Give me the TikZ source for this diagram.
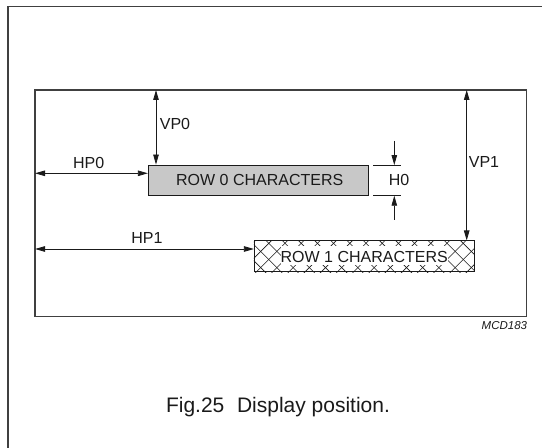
\documentclass[tikz,border=0pt]{standalone}
\usepackage{fontspec}
\setmainfont{Liberation Sans}
\usetikzlibrary{arrows.meta}
\definecolor{ink}{HTML}{1A1A1A}
\definecolor{framec}{HTML}{404040}
\definecolor{boxgray}{HTML}{C8C8C8}
\tikzset{
  dim/.style={draw=ink, line width=0.8bp, {Triangle[length=10bp,width=5.5bp]}-{Triangle[length=10bp,width=5.5bp]}},
  dimone/.style={draw=ink, line width=0.8bp, -{Triangle[length=10bp,width=5.5bp]}},
  ext/.style={draw=ink, line width=0.8bp},
  lbl/.style={font=\fontsize{16bp}{18bp}\selectfont, text=ink, inner sep=0pt},
  rowbox/.style={draw=ink, line width=0.9bp, rectangle, inner sep=0pt, minimum height=30.7bp},
  hatch/.style={draw=ink, line width=0.6bp}
}
\begin{document}
\begin{tikzpicture}[x=1bp,y=-1bp]
\useasboundingbox (0,0) rectangle (542,448);
% page border (cropped)
\draw[framec, line width=1.6bp] (8,448) -- (8,6.7) -- (542,6.7);
% display frame
\node[draw=framec, line width=1.3bp, rectangle, inner sep=0pt, minimum width=491.7bp, minimum height=226.3bp] (frame) at (280.85,203.15) {};
% row 0
\node[rowbox, fill=boxgray, minimum width=220bp] (r0) at (258.3,180.4) {};
\node[lbl] (r0t) at (259.7,180.4) {ROW 0 CHARACTERS};
% row 1
\node[rowbox, minimum width=219.7bp] (r1) at (364.2,256.3) {};
\begin{scope}
  \clip (r1.south west) rectangle (r1.north east);
  \foreach \k in {-4,...,12} {
    \pgfmathsetmacro{\c}{41.7+16.2*\k}
    \draw[hatch] (\c+235,235) -- (\c+280,280);
  }
  \foreach \m in {-3,...,14} {
    \pgfmathsetmacro{\d}{528.3+16.2*\m}
    \draw[hatch] (\d-235,235) -- (\d-280,280);
  }
\end{scope}
\fill[white] (280.5,246.2) rectangle (448,265.2);
\node[rowbox, minimum width=219.7bp] (r1b) at (364.2,256.3) {};
\node[lbl] (r1t) at (364.2,256.6) {ROW 1 CHARACTERS};
% HP0
\coordinate (hp0s) at (35,173.3);
\draw[dim] (hp0s) -- (r0.west |- hp0s);
\node[lbl] (hp0l) at (88.7,162.8) {HP0};
% VP0
\coordinate (vp0t) at (156,90);
\draw[dim] (vp0t) -- (vp0t |- r0.north);
\node[lbl] (vp0l) at (175,124.2) {VP0};
% H0
\coordinate (h0a) at (373,165.05);
\coordinate (h0b) at (373,195.75);
\draw[ext] (h0a) -- ++(28,0);
\draw[ext] (h0b) -- ++(28,0);
\coordinate (h0top) at (394.3,141);
\coordinate (h0bot) at (394.3,220);
\draw[dimone] (h0top) -- (h0top |- h0a);
\draw[dimone] (h0bot) -- (h0bot |- h0b);
\node[lbl] (h0l) at (399,180.2) {H0};
% VP1
\coordinate (vp1t) at (466.7,90);
\draw[dim] (vp1t) -- (vp1t |- r1.north);
\node[lbl] (vp1l) at (484,161.7) {VP1};
% HP1
\coordinate (hp1s) at (35,249);
\draw[dim] (hp1s) -- (r1.west |- hp1s);
\node[lbl] (hp1l) at (147,237.5) {HP1};
% code
\node[font=\fontsize{11.5bp}{13bp}\selectfont\itshape, text=ink, inner sep=0pt, anchor=east] (code) at (527.3,325.8) {MCD183};
% caption
\node[font=\fontsize{21bp}{25bp}\selectfont, text=ink, inner sep=0pt] (cap) at (278,407) {Fig.25\hspace{0.6em}Display position.};
\end{tikzpicture}
\end{document}
